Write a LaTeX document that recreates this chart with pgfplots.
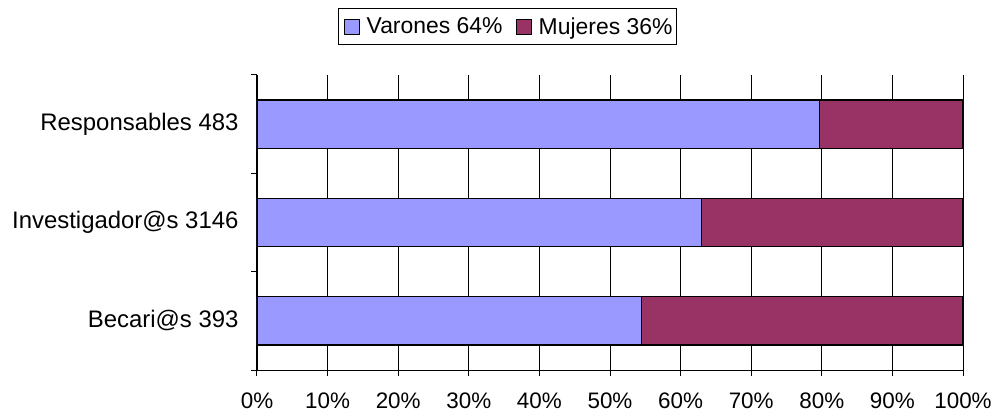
\documentclass[border=0pt]{standalone}
\usepackage{fontspec}
\setmainfont{Liberation Sans}
\usepackage{pgfplots}
\pgfplotsset{compat=1.18}
\definecolor{varon}{HTML}{9999FF}
\definecolor{mujer}{HTML}{993366}
\newcommand{\tfont}{\fontsize{22.5}{26}\selectfont}
\newcommand{\lfont}{\fontsize{23}{26}\selectfont}
\newcommand{\yfont}{\fontsize{24}{27}\selectfont}
\pgfplotsset{sq legend/.style={legend image code/.code={\path (0bp,0bp) (23bp,0bp);\draw[##1,draw=black,line width=1bp] (3bp,-7.5bp) rectangle (18bp,7.5bp);}}}
\begin{document}
\begin{tikzpicture}
\useasboundingbox (-257bp,-42bp) rectangle (738bp,370bp);
\begin{axis}[
  at={(0,0)}, anchor=south west,
  scale only axis, width=706bp, height=295bp,
  xbar stacked, bar width=0.49,
  xmin=0, xmax=100, ymin=-0.5, ymax=2.5,
  axis x line*=bottom, axis y line*=left,
  axis line style={black, line width=1bp, -},
  xtick={0,10,...,100},
  xticklabels={0\%,10\%,20\%,30\%,40\%,50\%,60\%,70\%,80\%,90\%,100\%},
  ytick={0,1,2},
  yticklabels={Becari@s 393,Investigador@s 3146,Responsables 483},
  minor ytick={-0.5,0.5,1.5,2.5},
  tick align=outside,
  major tick length=6bp, minor tick length=6bp,
  major y tick style={draw=none},
  tick style={black, line width=1bp},
  xmajorgrids=true, ymajorgrids=false,
  major grid style={black, line width=0.9bp},
  xticklabel style={font=\tfont, yshift=-13bp},
  yticklabel style={font=\yfont, xshift=-9bp},
  legend style={at={(0.1147,1.2271)}, anchor=north west, legend columns=2,
    draw=black, line width=1bp, font=\lfont, inner xsep=2bp, inner ysep=7bp,
    /tikz/every even column/.append style={column sep=8bp}},
]
\addplot[fill=varon, draw=black, line width=1.2bp, sq legend] coordinates {(54.5,0) (63.0,1) (79.7,2)};
\addplot[fill=mujer, draw=black, line width=1.2bp, sq legend] coordinates {(45.5,0) (37.0,1) (20.3,2)};
\legend{Varones 64\%, Mujeres 36\%\hspace{6bp}}
\end{axis}
\end{tikzpicture}
\end{document}
